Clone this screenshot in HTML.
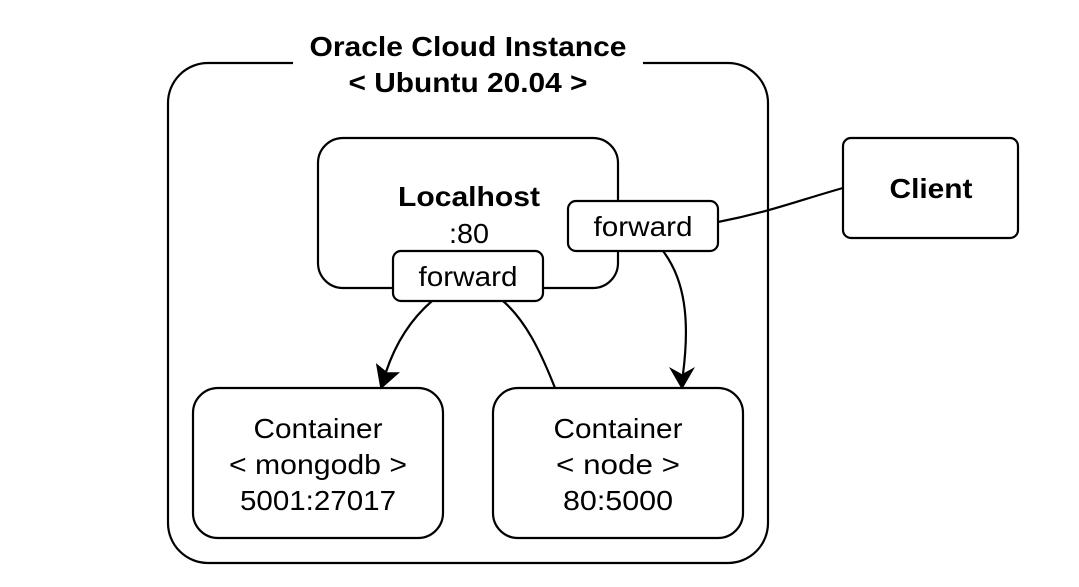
<!DOCTYPE html>
<html><head><meta charset="utf-8"><style>
html,body{margin:0;padding:0;background:#fff;width:1079px;height:587px;overflow:hidden}
svg text{font-family:"Liberation Sans",Arial,sans-serif;font-size:28px;fill:#000;text-anchor:middle}
.b{font-weight:bold}
</style></head><body>
<svg width="1079" height="587" viewBox="0 0 1079 587" xmlns="http://www.w3.org/2000/svg">
<g fill="none" stroke="#000" stroke-width="2.2">
<path d="M293,63 H208 A40,40 0 0 0 168,103 V523 A40,40 0 0 0 208,563 H728 A40,40 0 0 0 768,523 V103 A40,40 0 0 0 728,63 H643"/>
<rect x="318" y="138" width="300" height="150" rx="25" fill="#fff"/>
<rect x="843" y="138" width="175" height="100" rx="8" fill="#fff"/>
<rect x="193" y="388" width="250" height="150" rx="25" fill="#fff"/>
<rect x="493" y="388" width="250" height="150" rx="25" fill="#fff"/>
<path d="M718,222 C770,212 800,200 843,188"/>
<path d="M663,251 C685,280 690,320 683,374"/>
<path d="M432,301 C410,320 395,345 386,372"/>
<path d="M503,301 C525,320 540,350 555,388"/>
</g>
<path d="M671,369 L682,388 L693,369 L682,375 Z" fill="#000" stroke="#000" stroke-width="1.5"/>
<path d="M377,365 L381,388 L398,373 L387,373 Z" fill="#000" stroke="#000" stroke-width="1.5"/>
<rect x="393" y="251" width="150" height="50" rx="8" fill="#fff" stroke="#000" stroke-width="2.2"/>
<rect x="568" y="201" width="150" height="50" rx="8" fill="#fff" stroke="#000" stroke-width="2.2"/>
<text class="b" x="468" y="56" textLength="317" lengthAdjust="spacingAndGlyphs">Oracle Cloud Instance</text>
<text class="b" x="468" y="92" textLength="239" lengthAdjust="spacingAndGlyphs">&lt; Ubuntu 20.04 &gt;</text>
<text class="b" x="469" y="206" textLength="142" lengthAdjust="spacingAndGlyphs">Localhost</text>
<text x="469" y="243" textLength="40" lengthAdjust="spacingAndGlyphs">:80</text>
<text x="468" y="286" textLength="99" lengthAdjust="spacingAndGlyphs">forward</text>
<text x="643" y="236" textLength="99" lengthAdjust="spacingAndGlyphs">forward</text>
<text class="b" x="931" y="198" textLength="83" lengthAdjust="spacingAndGlyphs">Client</text>
<text x="318" y="438" textLength="129" lengthAdjust="spacingAndGlyphs">Container</text>
<text x="318" y="474" textLength="178" lengthAdjust="spacingAndGlyphs">&lt; mongodb &gt;</text>
<text x="318" y="510" textLength="156" lengthAdjust="spacingAndGlyphs">5001:27017</text>
<text x="618" y="438" textLength="129" lengthAdjust="spacingAndGlyphs">Container</text>
<text x="618" y="474" textLength="124" lengthAdjust="spacingAndGlyphs">&lt; node &gt;</text>
<text x="618" y="510" textLength="110" lengthAdjust="spacingAndGlyphs">80:5000</text>
</svg>
</body></html>
